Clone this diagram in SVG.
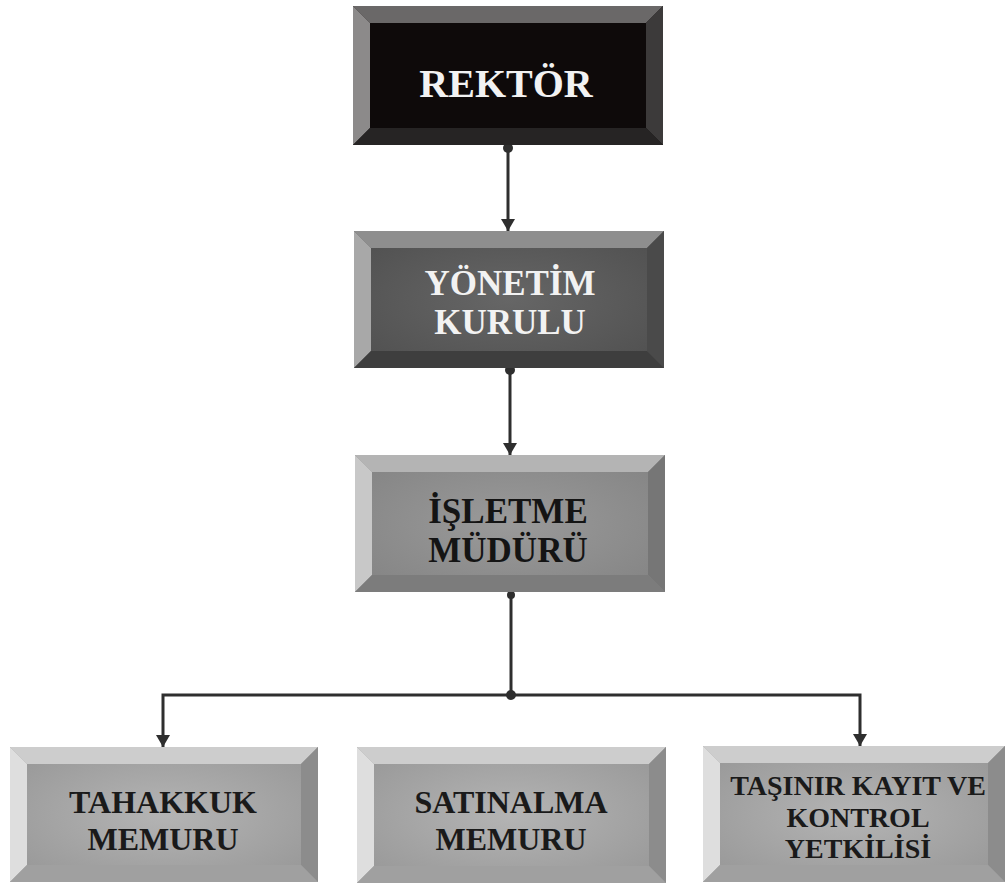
<svg xmlns="http://www.w3.org/2000/svg" width="1006" height="887" viewBox="0 0 1006 887">
<style>
  .lbl { font-family: "Liberation Serif", "Times New Roman", serif; font-weight: bold; text-anchor: middle; }
  .conn { stroke: #2e2e2e; stroke-width: 3; fill: none; }
  .dot { fill: #2e2e2e; }
  .k-face { fill: #0e0a0a; } .k-top { fill: #6a6868; } .k-left { fill: #8c8a8a; } .k-right { fill: #3c3a3a; } .k-bot { fill: #262424; }
  .d-face { fill: url(#gDark); } .d-top { fill: #8e8e8e; } .d-left { fill: #a8a8a8; } .d-right { fill: #4a4a4a; } .d-bot { fill: #3e3e3e; }
  .m-face { fill: url(#gMid); } .m-top { fill: #b4b4b4; } .m-left { fill: #c8c8c8; } .m-right { fill: #767676; } .m-bot { fill: #7c7c7c; }
  .l-face { fill: url(#gLight); } .l-top { fill: #cdcdcd; } .l-left { fill: #dedede; } .l-right { fill: #8c8c8c; } .l-bot { fill: #a0a0a0; }
</style>
<defs>
  <radialGradient id="gDark" cx="0.5" cy="0.5" r="0.7">
    <stop offset="0" stop-color="#666"/><stop offset="1" stop-color="#4e4e4e"/>
  </radialGradient>
  <radialGradient id="gMid" cx="0.5" cy="0.5" r="0.7">
    <stop offset="0" stop-color="#9a9a9a"/><stop offset="1" stop-color="#828282"/>
  </radialGradient>
  <radialGradient id="gLight" cx="0.5" cy="0.5" r="0.7">
    <stop offset="0" stop-color="#b4b4b4"/><stop offset="1" stop-color="#959595"/>
  </radialGradient>
  <marker id="arr" viewBox="0 0 12 14" refX="12" refY="7" markerWidth="12" markerHeight="14" markerUnits="userSpaceOnUse" orient="auto">
    <path d="M0,0 L12,7 L0,14 Z" fill="#2e2e2e"/>
  </marker>
</defs>
<rect width="1006" height="887" fill="#ffffff"/>

<g id="connectors">
  <circle class="dot" cx="508" cy="148" r="5"/>
  <line class="conn" x1="508" y1="148" x2="508" y2="231" marker-end="url(#arr)"/>
  <circle class="dot" cx="510" cy="370" r="5"/>
  <line class="conn" x1="510" y1="370" x2="510" y2="455" marker-end="url(#arr)"/>
  <circle class="dot" cx="511" cy="595" r="4"/>
  <line class="conn" x1="511" y1="592" x2="511" y2="695"/>
  <circle class="dot" cx="511" cy="695" r="5"/>
  <polyline class="conn" points="511,695 163,695 163,747" marker-end="url(#arr)"/>
  <polyline class="conn" points="511,695 860,695 860,746" marker-end="url(#arr)"/>
</g>

<g id="node-rektor">
  <rect class="k-face" x="353" y="6" width="310" height="139"/>
  <polygon class="k-top" points="353,6 663,6 646,23 370,23"/>
  <polygon class="k-left" points="353,6 370,23 370,128 353,145"/>
  <polygon class="k-right" points="663,6 663,145 646,128 646,23"/>
  <polygon class="k-bot" points="353,145 370,128 646,128 663,145"/>
  <text class="lbl" x="506" y="97" font-size="40" fill="#f2f2f2">REKTÖR</text>
</g>

<g id="node-yonetim">
  <rect class="d-face" x="354" y="231" width="310" height="137"/>
  <polygon class="d-top" points="354,231 664,231 647,248 371,248"/>
  <polygon class="d-left" points="354,231 371,248 371,351 354,368"/>
  <polygon class="d-right" points="664,231 664,368 647,351 647,248"/>
  <polygon class="d-bot" points="354,368 371,351 647,351 664,368"/>
  <text class="lbl" x="510" y="295" font-size="35" fill="#f2f2f2">YÖNETİM</text>
  <text class="lbl" x="510" y="334" font-size="35" fill="#f2f2f2">KURULU</text>
</g>

<g id="node-isletme">
  <rect class="m-face" x="355" y="455" width="310" height="137"/>
  <polygon class="m-top" points="355,455 665,455 648,472 372,472"/>
  <polygon class="m-left" points="355,455 372,472 372,575 355,592"/>
  <polygon class="m-right" points="665,455 665,592 648,575 648,472"/>
  <polygon class="m-bot" points="355,592 372,575 648,575 665,592"/>
  <text class="lbl" x="508" y="523" font-size="35" fill="#141414">İŞLETME</text>
  <text class="lbl" x="508" y="562" font-size="35" fill="#141414">MÜDÜRÜ</text>
</g>

<g id="node-tahakkuk">
  <rect class="l-face" x="10" y="747" width="308" height="135"/>
  <polygon class="l-top" points="10,747 318,747 301,764 27,764"/>
  <polygon class="l-left" points="10,747 27,764 27,865 10,882"/>
  <polygon class="l-right" points="318,747 318,882 301,865 301,764"/>
  <polygon class="l-bot" points="10,882 27,865 301,865 318,882"/>
  <text class="lbl" x="163" y="813" font-size="32" fill="#1a1a1a">TAHAKKUK</text>
  <text class="lbl" x="163" y="850" font-size="32" fill="#1a1a1a">MEMURU</text>
</g>

<g id="node-satinalma">
  <rect class="l-face" x="357" y="747" width="309" height="136"/>
  <polygon class="l-top" points="357,747 666,747 649,764 374,764"/>
  <polygon class="l-left" points="357,747 374,764 374,866 357,883"/>
  <polygon class="l-right" points="666,747 666,883 649,866 649,764"/>
  <polygon class="l-bot" points="357,883 374,866 649,866 666,883"/>
  <text class="lbl" x="511" y="813" font-size="32" fill="#1a1a1a">SATINALMA</text>
  <text class="lbl" x="511" y="850" font-size="32" fill="#1a1a1a">MEMURU</text>
</g>

<g id="node-tasinir">
  <rect class="l-face" x="703" y="746" width="302" height="136"/>
  <polygon class="l-top" points="703,746 1005,746 988,763 720,763"/>
  <polygon class="l-left" points="703,746 720,763 720,865 703,882"/>
  <polygon class="l-right" points="1005,746 1005,882 988,865 988,763"/>
  <polygon class="l-bot" points="703,882 720,865 988,865 1005,882"/>
  <text class="lbl" x="858" y="795" font-size="28" fill="#1a1a1a">TAŞINIR KAYIT VE</text>
  <text class="lbl" x="858" y="827" font-size="28" fill="#1a1a1a">KONTROL</text>
  <text class="lbl" x="858" y="858" font-size="28" fill="#1a1a1a">YETKİLİSİ</text>
</g>
</svg>
